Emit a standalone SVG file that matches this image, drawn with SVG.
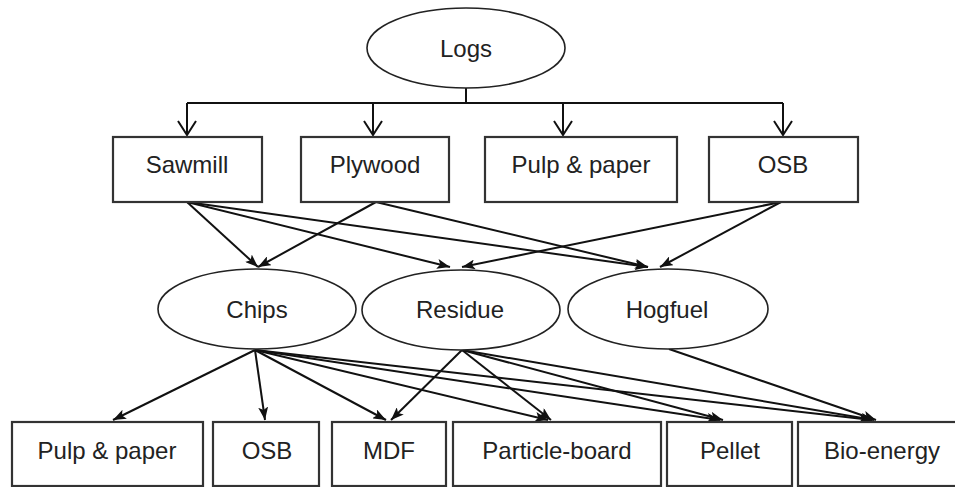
<svg xmlns="http://www.w3.org/2000/svg" width="955" height="487" viewBox="0 0 955 487">
<style>
.box{fill:#fff;stroke:#333;stroke-width:2.2}
.ell{fill:#fff;stroke:#222;stroke-width:1.6}
.t{font-family:"Liberation Sans",Arial,sans-serif;font-size:24px;fill:#222;text-anchor:middle}
.c{fill:none;stroke:#111;stroke-width:2}
.o{marker-end:url(#open)}
.s{marker-end:url(#solid)}
</style>
<defs>
<marker id="open" viewBox="0 0 16 20" refX="15" refY="10" markerWidth="16" markerHeight="20" markerUnits="userSpaceOnUse" orient="auto">
<path d="M1,1 L15,10 L1,19" fill="none" stroke="#111" stroke-width="2"/>
</marker>
<marker id="solid" viewBox="0 0 13 10" refX="13" refY="5" markerWidth="13" markerHeight="10" markerUnits="userSpaceOnUse" orient="auto">
<path d="M0,0 L13,5 L0,10 L3,5 z" fill="#111"/>
</marker>
</defs>
<g id="connectors">
<path class="c" d="M466,88 V103"/>
<path class="c" d="M187,103 H783"/>
<path class="c o" d="M187,103 V135"/>
<path class="c o" d="M373,103 V135"/>
<path class="c o" d="M563,103 V135"/>
<path class="c o" d="M783,103 V135"/>
<path class="c s" d="M187,202 L258,267"/>
<path class="c s" d="M376,202 L258,267"/>
<path class="c s" d="M187,202 L450,267"/>
<path class="c s" d="M781,202 L462,267"/>
<path class="c s" d="M187,202 L648,267"/>
<path class="c s" d="M376,202 L648,267"/>
<path class="c s" d="M781,202 L660,267"/>
<path class="c s" d="M255,350 L113,420"/>
<path class="c s" d="M255,350 L265,420"/>
<path class="c s" d="M255,350 L386,420"/>
<path class="c s" d="M255,350 L548,420"/>
<path class="c s" d="M255,350 L720,420"/>
<path class="c s" d="M255,350 L872,420"/>
<path class="c s" d="M462,350 L391,420"/>
<path class="c s" d="M462,350 L551,420"/>
<path class="c s" d="M462,350 L723,420"/>
<path class="c s" d="M462,350 L874,420"/>
<path class="c s" d="M669,349 L876,420"/>
</g>
<g id="logs"><ellipse class="ell" cx="466" cy="48" rx="99" ry="40"/><text class="t" x="466" y="57">Logs</text></g>
<g id="sawmill"><rect class="box" x="113" y="137" width="149" height="65"/><text class="t" x="187" y="173">Sawmill</text></g>
<g id="plywood"><rect class="box" x="301" y="137" width="148" height="65"/><text class="t" x="375" y="173">Plywood</text></g>
<g id="pulp1"><rect class="box" x="485" y="137" width="192" height="65"/><text class="t" x="581" y="173">Pulp &amp; paper</text></g>
<g id="osb1"><rect class="box" x="709" y="137" width="149" height="65"/><text class="t" x="783" y="173">OSB</text></g>
<g id="chips"><ellipse class="ell" cx="257" cy="309" rx="99" ry="40"/><text class="t" x="257" y="318">Chips</text></g>
<g id="residue"><ellipse class="ell" cx="461" cy="310" rx="99" ry="40"/><text class="t" x="460" y="318">Residue</text></g>
<g id="hogfuel"><ellipse class="ell" cx="668" cy="309" rx="100" ry="40"/><text class="t" x="667" y="318">Hogfuel</text></g>
<g id="pulp2"><rect class="box" x="12" y="422" width="191" height="64"/><text class="t" x="107" y="459">Pulp &amp; paper</text></g>
<g id="osb2"><rect class="box" x="213" y="422" width="106" height="64"/><text class="t" x="267" y="459">OSB</text></g>
<g id="mdf"><rect class="box" x="332" y="422" width="114" height="64"/><text class="t" x="389" y="459">MDF</text></g>
<g id="particle"><rect class="box" x="453" y="422" width="208" height="64"/><text class="t" x="557" y="459">Particle-board</text></g>
<g id="pellet"><rect class="box" x="667" y="422" width="125" height="64"/><text class="t" x="730" y="459">Pellet</text></g>
<g id="bioenergy"><rect class="box" x="798" y="422" width="162" height="64"/><text class="t" x="882" y="459">Bio-energy</text></g>
</svg>
